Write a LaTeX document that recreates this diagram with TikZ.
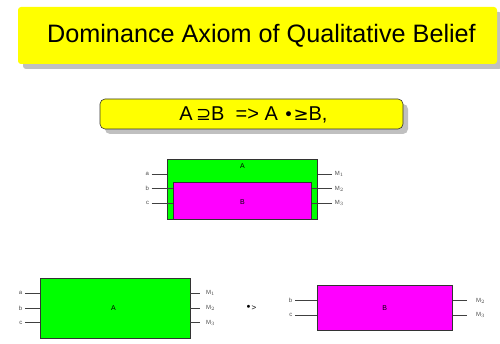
\documentclass[tikz,border=0pt]{standalone}
\usepackage{fontspec}
\setmainfont{Liberation Sans}
\newfontfamily\symf{DejaVu Sans}
\usetikzlibrary{shadows}
\definecolor{ygold}{RGB}{255,255,0}
\definecolor{gbox}{RGB}{0,255,0}
\definecolor{mbox}{RGB}{255,0,255}
\definecolor{shad}{RGB}{192,192,192}
\tikzset{
  banner/.style={fill=ygold, rounded corners=3pt, inner sep=0pt,
    drop shadow={shadow xshift=5pt, shadow yshift=-5pt, fill=shad, opacity=1}},
  blk/.style={draw=black!80, line width=0.8pt, inner sep=0pt},
  wire/.style={draw=black!75, line width=0.8pt},
  lblL/.style={anchor=east, inner sep=2.5pt, font=\fontsize{6}{7}\selectfont, text=black!70},
  lblR/.style={anchor=west, inner sep=3pt, font=\fontsize{6}{7}\selectfont, text=black!70},
  boxlbl/.style={font=\fontsize{7}{8}\selectfont, inner sep=0pt},
}
\begin{document}
\begin{tikzpicture}[x=1pt,y=-1pt]
\useasboundingbox (0,0) rectangle (500,344);
% title
\node[banner, minimum width=479pt, minimum height=57pt] (title) at (257.5,35.5) {};
\node[font=\fontsize{25.2}{29}\selectfont] (ttext) at (261.5,36) {Dominance Axiom of Qualitative Belief};
% formula
\node[banner, draw=black!80, line width=0.6pt, rounded corners=5pt, minimum width=303pt, minimum height=30pt] (form) at (251.5,114) {};
\node[font=\fontsize{20}{23}\selectfont] (ftext) at (253.5,114.5) {A\,{\symf\fontsize{18}{20}\selectfont ⊇}B\ \ => A {\symf\fontsize{17}{15}\selectfont •}{\symf\fontsize{18}{20}\selectfont ≥}B,};
% middle diagram
\node[blk, fill=gbox, minimum width=150pt, minimum height=60pt] (A1) at (242.3,189.2) {};
\node[blk, fill=mbox, minimum width=138.4pt, minimum height=36.3pt] (B1) at (242.5,200.9) {};
\node[boxlbl] (A1t) at (242.5,166) {A};
\node[boxlbl] (B1t) at (242.5,202) {B};
\node[lblL] (ma) at (151.7,174) {a};
\node[lblL] (mb) at (151.7,188.7) {b};
\node[lblL] (mc) at (151.7,203.3) {c};
\draw[wire] (ma.east) -- (ma.east -| A1.west);
\draw[wire] (mb.east) -- (mb.east -| B1.west);
\draw[wire] (mc.east) -- (mc.east -| B1.west);
\node[lblR] (m1) at (331.7,174) {M$_1$};
\node[lblR] (m2) at (331.7,188.7) {M$_2$};
\node[lblR] (m3) at (331.7,203.3) {M$_3$};
\draw[wire] (m1.west -| A1.east) -- (m1.west);
\draw[wire] (m2.west -| B1.east) -- (m2.west);
\draw[wire] (m3.west -| B1.east) -- (m3.west);
% bottom left
\node[blk, fill=gbox, minimum width=150pt, minimum height=60pt] (A2) at (115,308.3) {};
\node[boxlbl] (A2t) at (113.5,308.3) {A};
\node[lblL] (la) at (25,293.3) {a};
\node[lblL] (lb) at (25,308.3) {b};
\node[lblL] (lc) at (25,322.7) {c};
\draw[wire] (la.east) -- (la.east -| A2.west);
\draw[wire] (lb.east) -- (lb.east -| A2.west);
\draw[wire] (lc.east) -- (lc.east -| A2.west);
\node[lblR] (l1) at (203,293.3) {M$_1$};
\node[lblR] (l2) at (203,308.3) {M$_2$};
\node[lblR] (l3) at (203,322.7) {M$_3$};
\coordinate (r1) at (199.5,293.3);
\coordinate (r2) at (199.5,308.3);
\coordinate (r3) at (199.5,322.7);
\draw[wire] (r1 -| A2.east) -- (r1);
\draw[wire] (r2 -| A2.east) -- (r2);
\draw[wire] (r3 -| A2.east) -- (r3);
% relation
\node[font=\fontsize{8}{9}\selectfont, inner sep=0pt] (rel) at (251,308.3) {{\symf\fontsize{10}{10}\selectfont •}>};
% bottom right
\node[blk, fill=mbox, minimum width=135pt, minimum height=45pt] (B2) at (384.8,308.2) {};
\node[boxlbl] (B2t) at (384.8,308.5) {B};
\node[lblL] (rb) at (295,300.7) {b};
\node[lblL] (rc) at (295,315) {c};
\draw[wire] (rb.east) -- (rb.east -| B2.west);
\draw[wire] (rc.east) -- (rc.east -| B2.west);
\node[lblR] (s2) at (473,300.7) {M$_2$};
\node[lblR] (s3) at (473,315) {M$_3$};
\coordinate (q2) at (466.7,300.7);
\coordinate (q3) at (466.7,315);
\draw[wire] (q2 -| B2.east) -- (q2);
\draw[wire] (q3 -| B2.east) -- (q3);
\end{tikzpicture}
\end{document}
